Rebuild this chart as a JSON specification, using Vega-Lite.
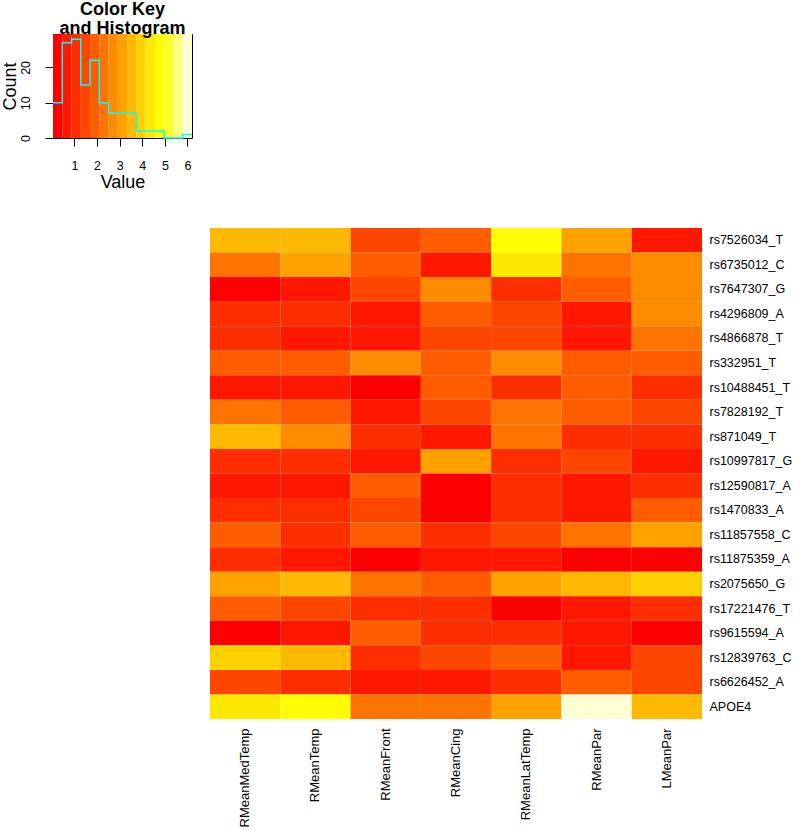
{
  "$schema": "https://vega.github.io/schema/vega-lite/v6.json",
  "padding": {"left": 0, "top": 0, "right": 0, "bottom": 0},
  "background": "white",
  "config": {
    "font": "Liberation Sans",
    "view": {"stroke": null},
    "axis": {"labelColor": "#000", "titleColor": "#000", "tickColor": "#000", "grid": false},
    "title": {"color": "#000"}
  },
  "datasets": {
    "keybands": [
      {"lo": 0.05, "hi": 0.46, "mid": 0.26},
      {"lo": 0.46, "hi": 0.87, "mid": 0.67},
      {"lo": 0.87, "hi": 1.28, "mid": 1.08},
      {"lo": 1.28, "hi": 1.69, "mid": 1.49},
      {"lo": 1.69, "hi": 2.10, "mid": 1.90},
      {"lo": 2.10, "hi": 2.51, "mid": 2.31},
      {"lo": 2.51, "hi": 2.92, "mid": 2.72},
      {"lo": 2.92, "hi": 3.33, "mid": 3.13},
      {"lo": 3.33, "hi": 3.74, "mid": 3.54},
      {"lo": 3.74, "hi": 4.15, "mid": 3.95},
      {"lo": 4.15, "hi": 4.56, "mid": 4.36},
      {"lo": 4.56, "hi": 4.97, "mid": 4.77},
      {"lo": 4.97, "hi": 5.38, "mid": 5.18},
      {"lo": 5.38, "hi": 5.79, "mid": 5.59},
      {"lo": 5.79, "hi": 6.20, "mid": 6.00}
    ],
    "hist": [
      {"brk": 0.05, "count": 10},
      {"brk": 0.46, "count": 27},
      {"brk": 0.87, "count": 28},
      {"brk": 1.28, "count": 15},
      {"brk": 1.69, "count": 22},
      {"brk": 2.10, "count": 10},
      {"brk": 2.51, "count": 7},
      {"brk": 2.92, "count": 7},
      {"brk": 3.33, "count": 7},
      {"brk": 3.74, "count": 2},
      {"brk": 4.15, "count": 2},
      {"brk": 4.56, "count": 2},
      {"brk": 4.97, "count": 0},
      {"brk": 5.38, "count": 0},
      {"brk": 5.79, "count": 1},
      {"brk": 6.20, "count": 1}
    ],
    "heat": [
      {"snp": "rs7526034_T", "region": "RMeanMedTemp", "value": 3.54},
      {"snp": "rs7526034_T", "region": "RMeanTemp", "value": 3.54},
      {"snp": "rs7526034_T", "region": "RMeanFront", "value": 1.49},
      {"snp": "rs7526034_T", "region": "RMeanCing", "value": 1.90},
      {"snp": "rs7526034_T", "region": "RMeanLatTemp", "value": 4.77},
      {"snp": "rs7526034_T", "region": "RMeanPar", "value": 3.13},
      {"snp": "rs7526034_T", "region": "LMeanPar", "value": 0.67},

      {"snp": "rs6735012_C", "region": "RMeanMedTemp", "value": 2.31},
      {"snp": "rs6735012_C", "region": "RMeanTemp", "value": 3.13},
      {"snp": "rs6735012_C", "region": "RMeanFront", "value": 1.90},
      {"snp": "rs6735012_C", "region": "RMeanCing", "value": 0.67},
      {"snp": "rs6735012_C", "region": "RMeanLatTemp", "value": 4.36},
      {"snp": "rs6735012_C", "region": "RMeanPar", "value": 2.31},
      {"snp": "rs6735012_C", "region": "LMeanPar", "value": 2.72},

      {"snp": "rs7647307_G", "region": "RMeanMedTemp", "value": 0.05},
      {"snp": "rs7647307_G", "region": "RMeanTemp", "value": 0.67},
      {"snp": "rs7647307_G", "region": "RMeanFront", "value": 1.49},
      {"snp": "rs7647307_G", "region": "RMeanCing", "value": 2.72},
      {"snp": "rs7647307_G", "region": "RMeanLatTemp", "value": 1.08},
      {"snp": "rs7647307_G", "region": "RMeanPar", "value": 1.90},
      {"snp": "rs7647307_G", "region": "LMeanPar", "value": 2.72},

      {"snp": "rs4296809_A", "region": "RMeanMedTemp", "value": 1.08},
      {"snp": "rs4296809_A", "region": "RMeanTemp", "value": 1.08},
      {"snp": "rs4296809_A", "region": "RMeanFront", "value": 0.67},
      {"snp": "rs4296809_A", "region": "RMeanCing", "value": 1.90},
      {"snp": "rs4296809_A", "region": "RMeanLatTemp", "value": 1.49},
      {"snp": "rs4296809_A", "region": "RMeanPar", "value": 0.67},
      {"snp": "rs4296809_A", "region": "LMeanPar", "value": 2.72},

      {"snp": "rs4866878_T", "region": "RMeanMedTemp", "value": 1.08},
      {"snp": "rs4866878_T", "region": "RMeanTemp", "value": 0.67},
      {"snp": "rs4866878_T", "region": "RMeanFront", "value": 0.67},
      {"snp": "rs4866878_T", "region": "RMeanCing", "value": 1.49},
      {"snp": "rs4866878_T", "region": "RMeanLatTemp", "value": 1.49},
      {"snp": "rs4866878_T", "region": "RMeanPar", "value": 0.67},
      {"snp": "rs4866878_T", "region": "LMeanPar", "value": 2.31},

      {"snp": "rs332951_T", "region": "RMeanMedTemp", "value": 1.90},
      {"snp": "rs332951_T", "region": "RMeanTemp", "value": 1.90},
      {"snp": "rs332951_T", "region": "RMeanFront", "value": 2.72},
      {"snp": "rs332951_T", "region": "RMeanCing", "value": 1.90},
      {"snp": "rs332951_T", "region": "RMeanLatTemp", "value": 2.72},
      {"snp": "rs332951_T", "region": "RMeanPar", "value": 1.90},
      {"snp": "rs332951_T", "region": "LMeanPar", "value": 1.90},

      {"snp": "rs10488451_T", "region": "RMeanMedTemp", "value": 0.67},
      {"snp": "rs10488451_T", "region": "RMeanTemp", "value": 0.67},
      {"snp": "rs10488451_T", "region": "RMeanFront", "value": 0.26},
      {"snp": "rs10488451_T", "region": "RMeanCing", "value": 1.90},
      {"snp": "rs10488451_T", "region": "RMeanLatTemp", "value": 1.08},
      {"snp": "rs10488451_T", "region": "RMeanPar", "value": 1.90},
      {"snp": "rs10488451_T", "region": "LMeanPar", "value": 1.08},

      {"snp": "rs7828192_T", "region": "RMeanMedTemp", "value": 2.31},
      {"snp": "rs7828192_T", "region": "RMeanTemp", "value": 1.90},
      {"snp": "rs7828192_T", "region": "RMeanFront", "value": 0.67},
      {"snp": "rs7828192_T", "region": "RMeanCing", "value": 1.49},
      {"snp": "rs7828192_T", "region": "RMeanLatTemp", "value": 2.31},
      {"snp": "rs7828192_T", "region": "RMeanPar", "value": 1.90},
      {"snp": "rs7828192_T", "region": "LMeanPar", "value": 1.49},

      {"snp": "rs871049_T", "region": "RMeanMedTemp", "value": 3.54},
      {"snp": "rs871049_T", "region": "RMeanTemp", "value": 2.72},
      {"snp": "rs871049_T", "region": "RMeanFront", "value": 1.08},
      {"snp": "rs871049_T", "region": "RMeanCing", "value": 0.67},
      {"snp": "rs871049_T", "region": "RMeanLatTemp", "value": 2.31},
      {"snp": "rs871049_T", "region": "RMeanPar", "value": 1.08},
      {"snp": "rs871049_T", "region": "LMeanPar", "value": 1.08},

      {"snp": "rs10997817_G", "region": "RMeanMedTemp", "value": 1.08},
      {"snp": "rs10997817_G", "region": "RMeanTemp", "value": 1.08},
      {"snp": "rs10997817_G", "region": "RMeanFront", "value": 0.67},
      {"snp": "rs10997817_G", "region": "RMeanCing", "value": 3.13},
      {"snp": "rs10997817_G", "region": "RMeanLatTemp", "value": 1.08},
      {"snp": "rs10997817_G", "region": "RMeanPar", "value": 1.49},
      {"snp": "rs10997817_G", "region": "LMeanPar", "value": 0.67},

      {"snp": "rs12590817_A", "region": "RMeanMedTemp", "value": 0.67},
      {"snp": "rs12590817_A", "region": "RMeanTemp", "value": 0.67},
      {"snp": "rs12590817_A", "region": "RMeanFront", "value": 1.90},
      {"snp": "rs12590817_A", "region": "RMeanCing", "value": 0.26},
      {"snp": "rs12590817_A", "region": "RMeanLatTemp", "value": 1.08},
      {"snp": "rs12590817_A", "region": "RMeanPar", "value": 0.67},
      {"snp": "rs12590817_A", "region": "LMeanPar", "value": 1.08},

      {"snp": "rs1470833_A", "region": "RMeanMedTemp", "value": 1.08},
      {"snp": "rs1470833_A", "region": "RMeanTemp", "value": 1.08},
      {"snp": "rs1470833_A", "region": "RMeanFront", "value": 1.49},
      {"snp": "rs1470833_A", "region": "RMeanCing", "value": 0.26},
      {"snp": "rs1470833_A", "region": "RMeanLatTemp", "value": 1.08},
      {"snp": "rs1470833_A", "region": "RMeanPar", "value": 0.67},
      {"snp": "rs1470833_A", "region": "LMeanPar", "value": 1.90},

      {"snp": "rs11857558_C", "region": "RMeanMedTemp", "value": 1.90},
      {"snp": "rs11857558_C", "region": "RMeanTemp", "value": 1.08},
      {"snp": "rs11857558_C", "region": "RMeanFront", "value": 1.90},
      {"snp": "rs11857558_C", "region": "RMeanCing", "value": 1.08},
      {"snp": "rs11857558_C", "region": "RMeanLatTemp", "value": 1.49},
      {"snp": "rs11857558_C", "region": "RMeanPar", "value": 2.31},
      {"snp": "rs11857558_C", "region": "LMeanPar", "value": 3.13},

      {"snp": "rs11875359_A", "region": "RMeanMedTemp", "value": 1.08},
      {"snp": "rs11875359_A", "region": "RMeanTemp", "value": 0.67},
      {"snp": "rs11875359_A", "region": "RMeanFront", "value": 0.26},
      {"snp": "rs11875359_A", "region": "RMeanCing", "value": 0.67},
      {"snp": "rs11875359_A", "region": "RMeanLatTemp", "value": 0.67},
      {"snp": "rs11875359_A", "region": "RMeanPar", "value": 0.26},
      {"snp": "rs11875359_A", "region": "LMeanPar", "value": 0.26},

      {"snp": "rs2075650_G", "region": "RMeanMedTemp", "value": 3.13},
      {"snp": "rs2075650_G", "region": "RMeanTemp", "value": 3.54},
      {"snp": "rs2075650_G", "region": "RMeanFront", "value": 2.31},
      {"snp": "rs2075650_G", "region": "RMeanCing", "value": 1.90},
      {"snp": "rs2075650_G", "region": "RMeanLatTemp", "value": 3.13},
      {"snp": "rs2075650_G", "region": "RMeanPar", "value": 3.54},
      {"snp": "rs2075650_G", "region": "LMeanPar", "value": 3.95},

      {"snp": "rs17221476_T", "region": "RMeanMedTemp", "value": 1.90},
      {"snp": "rs17221476_T", "region": "RMeanTemp", "value": 1.49},
      {"snp": "rs17221476_T", "region": "RMeanFront", "value": 1.08},
      {"snp": "rs17221476_T", "region": "RMeanCing", "value": 1.08},
      {"snp": "rs17221476_T", "region": "RMeanLatTemp", "value": 0.26},
      {"snp": "rs17221476_T", "region": "RMeanPar", "value": 0.67},
      {"snp": "rs17221476_T", "region": "LMeanPar", "value": 1.08},

      {"snp": "rs9615594_A", "region": "RMeanMedTemp", "value": 0.26},
      {"snp": "rs9615594_A", "region": "RMeanTemp", "value": 0.67},
      {"snp": "rs9615594_A", "region": "RMeanFront", "value": 1.90},
      {"snp": "rs9615594_A", "region": "RMeanCing", "value": 1.08},
      {"snp": "rs9615594_A", "region": "RMeanLatTemp", "value": 1.08},
      {"snp": "rs9615594_A", "region": "RMeanPar", "value": 0.67},
      {"snp": "rs9615594_A", "region": "LMeanPar", "value": 0.26},

      {"snp": "rs12839763_C", "region": "RMeanMedTemp", "value": 3.95},
      {"snp": "rs12839763_C", "region": "RMeanTemp", "value": 3.54},
      {"snp": "rs12839763_C", "region": "RMeanFront", "value": 1.08},
      {"snp": "rs12839763_C", "region": "RMeanCing", "value": 1.49},
      {"snp": "rs12839763_C", "region": "RMeanLatTemp", "value": 1.90},
      {"snp": "rs12839763_C", "region": "RMeanPar", "value": 0.67},
      {"snp": "rs12839763_C", "region": "LMeanPar", "value": 1.49},

      {"snp": "rs6626452_A", "region": "RMeanMedTemp", "value": 1.49},
      {"snp": "rs6626452_A", "region": "RMeanTemp", "value": 1.08},
      {"snp": "rs6626452_A", "region": "RMeanFront", "value": 0.67},
      {"snp": "rs6626452_A", "region": "RMeanCing", "value": 0.67},
      {"snp": "rs6626452_A", "region": "RMeanLatTemp", "value": 1.08},
      {"snp": "rs6626452_A", "region": "RMeanPar", "value": 1.90},
      {"snp": "rs6626452_A", "region": "LMeanPar", "value": 1.49},

      {"snp": "APOE4", "region": "RMeanMedTemp", "value": 4.36},
      {"snp": "APOE4", "region": "RMeanTemp", "value": 4.77},
      {"snp": "APOE4", "region": "RMeanFront", "value": 2.31},
      {"snp": "APOE4", "region": "RMeanCing", "value": 2.31},
      {"snp": "APOE4", "region": "RMeanLatTemp", "value": 3.13},
      {"snp": "APOE4", "region": "RMeanPar", "value": 6.2},
      {"snp": "APOE4", "region": "LMeanPar", "value": 3.54}
    ]
  },
  "bounds": "flush",
  "spacing": 90,
  "vconcat": [
    {
      "width": 139,
      "height": 104,
      "view": {"stroke": "#000", "strokeWidth": 1},
      "title": {"text": ["Color Key", "and Histogram"], "fontSize": 18, "fontWeight": "bold", "anchor": "middle", "lineHeight": 19, "offset": -4},
      "layer": [
        {
          "data": {"name": "keybands"},
          "mark": {"type": "rect"},
          "encoding": {
            "x": {"field": "lo", "type": "quantitative",
                  "scale": {"domain": [0.05, 6.2], "nice": false, "zero": false},
                  "axis": {"values": [1, 2, 3, 4, 5, 6], "title": "Value", "titleFontSize": 18, "titleFontWeight": "normal",
                           "labelFontSize": 12.5, "tickSize": 8, "domain": false, "labelPadding": 13, "titlePadding": 2,
                           "labelFlush": false, "labelOverlap": false}},
            "x2": {"field": "hi"},
            "color": {"field": "mid", "type": "quantitative",
                      "scale": {"type": "threshold", "domain": [0.46, 0.87, 1.28, 1.69, 2.10, 2.51, 2.92, 3.33, 3.74, 4.15, 4.56, 4.97, 5.38, 5.79],
                                "range": ["#FF0000", "#FF1700", "#FF2E00", "#FF4600", "#FF5D00", "#FF7400", "#FF8B00", "#FFA200", "#FFB900", "#FFD100", "#FFE800", "#FFFF00", "#FFFF2A", "#FFFF80", "#FFFFD5"]},
                      "legend": null}
          }
        },
        {
          "data": {"name": "hist"},
          "mark": {"type": "line", "interpolate": "step-after", "color": "#00FFFF", "strokeWidth": 1.5},
          "encoding": {
            "x": {"field": "brk", "type": "quantitative",
                  "scale": {"domain": [0.05, 6.2], "nice": false, "zero": false},
                  "axis": {"values": [1, 2, 3, 4, 5, 6], "title": "Value", "titleFontSize": 18, "titleFontWeight": "normal",
                           "labelFontSize": 12.5, "tickSize": 8, "domain": false, "labelPadding": 13, "titlePadding": 2,
                           "labelFlush": false, "labelOverlap": false}},
            "y": {"field": "count", "type": "quantitative",
                  "scale": {"domain": [0, 29.47], "nice": false},
                  "axis": {"values": [0, 10, 20], "title": "Count", "titleFontSize": 18, "titleFontWeight": "normal",
                           "labelFontSize": 12.5, "labelAngle": -90, "labelAlign": "center", "labelBaseline": "bottom",
                           "tickSize": 8, "domain": false, "labelPadding": 13, "titlePadding": 0}}
          }
        }
      ]
    },
    {
      "bounds": "flush",
      "spacing": 20,
      "hconcat": [
        {
          "width": 137,
          "height": 1,
          "data": {"values": []},
          "mark": "point",
          "encoding": {}
        },
        {
          "width": 492,
          "height": 491,
          "data": {"name": "heat"},
          "mark": {"type": "rect"},
          "encoding": {
            "x": {"field": "region", "type": "nominal", "sort": null,
                  "scale": {"paddingInner": 0, "paddingOuter": 0},
                  "axis": {"title": null, "labelAngle": -90, "labelPadding": 9, "ticks": false, "domain": false, "labelFontSize": 13}},
            "y": {"field": "snp", "type": "nominal", "sort": null,
                  "scale": {"paddingInner": 0, "paddingOuter": 0},
                  "axis": {"orient": "right", "title": null, "labelPadding": 7, "ticks": false, "domain": false, "labelFontSize": 12.5}},
            "color": {"field": "value", "type": "quantitative",
                      "scale": {"type": "threshold", "domain": [0.46, 0.87, 1.28, 1.69, 2.10, 2.51, 2.92, 3.33, 3.74, 4.15, 4.56, 4.97, 5.38, 5.79],
                                "range": ["#FF0000", "#FF1700", "#FF2E00", "#FF4600", "#FF5D00", "#FF7400", "#FF8B00", "#FFA200", "#FFB900", "#FFD100", "#FFE800", "#FFFF00", "#FFFF2A", "#FFFF80", "#FFFFD5"]},
                      "legend": null}
          }
        }
      ]
    }
  ]
}
